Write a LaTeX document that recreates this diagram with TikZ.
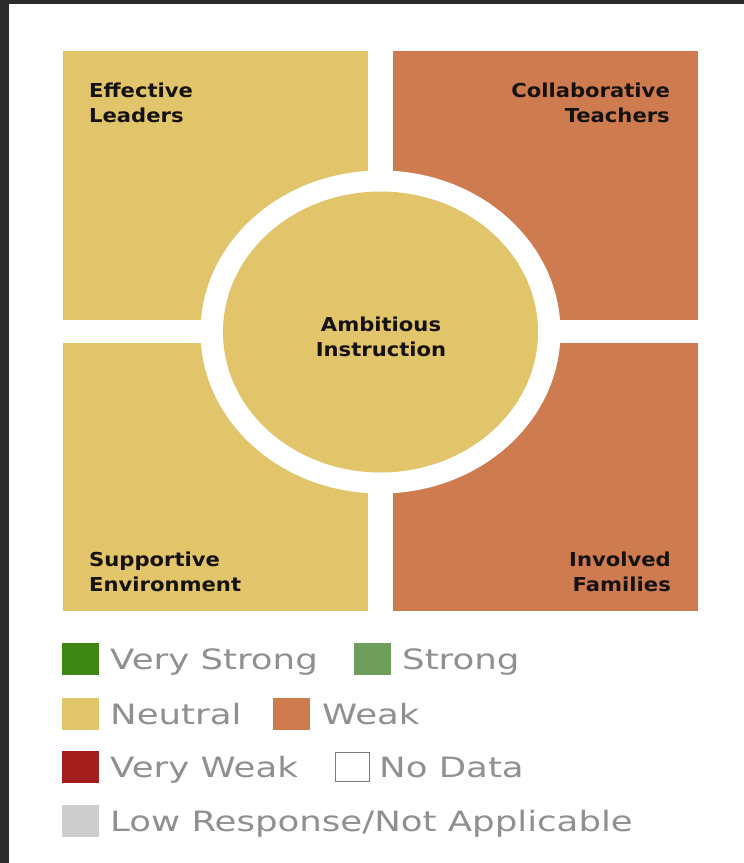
\documentclass[tikz,border=0pt]{standalone}
\usepackage{fontspec}
\setmainfont{DejaVu Sans}
\newfontfamily\labelfont[FakeStretch=1.1]{DejaVu Sans}
\newfontfamily\keyfont[FakeStretch=1.27]{DejaVu Sans}

\definecolor{backdrop}{HTML}{2B2B2B}
\definecolor{neutral}{HTML}{E2C46B}
\definecolor{weak}{HTML}{CE7B50}
\definecolor{verystrong}{HTML}{3E8714}
\definecolor{strong}{HTML}{6E9E5A}
\definecolor{veryweak}{HTML}{A51E1E}
\definecolor{lowresp}{HTML}{CDCDCD}
\definecolor{keytext}{HTML}{909090}
\definecolor{boxline}{HTML}{7A7A7A}
\definecolor{labeltext}{HTML}{161210}

\tikzset{
  tag/.style={inner sep=0pt, text=labeltext,
    font=\labelfont\bfseries\fontsize{19.2}{25}\selectfont},
  swatch/.style={inner sep=0pt, minimum width=37pt, minimum height=32pt, anchor=west},
  keylabel/.style={inner sep=0pt, anchor=base west, text=keytext,
    font=\keyfont\fontsize{28}{30}\selectfont}
}

\begin{document}
\begin{tikzpicture}[x=1pt,y=-1pt]
  % page frame
  \fill[backdrop] (0,0) rectangle (744,863);
  \useasboundingbox (0,0) rectangle (744,863);
  \fill[white] (9,4) rectangle (744,863);

  % four quadrants
  \fill[neutral] (63,51)  rectangle (368,320);
  \fill[weak]    (393,51) rectangle (698,320);
  \fill[neutral] (63,343) rectangle (368,611);
  \fill[weak]    (393,343) rectangle (698,611);

  % central ring and disc
  \fill[white]   (380.5,332) ellipse [x radius=180pt, y radius=161.5pt];
  \fill[neutral] (380.5,332) ellipse [x radius=157.5pt, y radius=140.5pt];

  % quadrant labels
  \node[tag, anchor=north west, align=left]  (leaders)  at (89,82.5)   {Effective\\Leaders};
  \node[tag, anchor=north east, align=right] (teachers) at (670,82.5)  {Collaborative\\Teachers};
  \node[tag, anchor=north west, align=left]  (environ)  at (89,551.5)  {Supportive\\Environment};
  \node[tag, anchor=north east, align=right] (families) at (671,551.5) {Involved\\Families};
  \node[tag, anchor=north, align=center]     (instr)    at (381,316.5) {Ambitious\\Instruction};

  % legend swatches
  \node[swatch, fill=verystrong] (sw1) at (62,659) {};
  \node[swatch, fill=strong]     (sw2) at (354,659) {};
  \node[swatch, fill=neutral]    (sw3) at (62,714) {};
  \node[swatch, fill=weak]       (sw4) at (273,714) {};
  \node[swatch, fill=veryweak]   (sw5) at (62,766.5) {};
  \node[swatch, draw=boxline, line width=1.3pt,
        minimum width=34pt, minimum height=29pt] (sw6) at (335,767) {};
  \node[swatch, fill=lowresp]    (sw7) at (62,821) {};

  % legend texts
  \node[keylabel] (k1) at (110,669) {Very Strong};
  \node[keylabel] (k2) at (402,669) {Strong};
  \node[keylabel] (k3) at (110,724) {Neutral};
  \node[keylabel] (k4) at (322,724) {Weak};
  \node[keylabel] (k5) at (110,777) {Very Weak};
  \node[keylabel] (k6) at (379,777) {No Data};
  \node[keylabel] (k7) at (110,831) {Low Response/Not Applicable};
\end{tikzpicture}
\end{document}
